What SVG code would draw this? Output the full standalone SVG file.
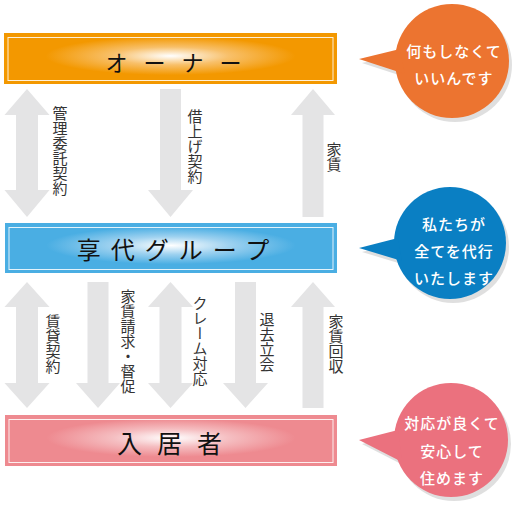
<svg xmlns="http://www.w3.org/2000/svg" width="514" height="511" viewBox="0 0 514 511">
<defs>
<radialGradient id="gO" cx="0.5" cy="0.45" r="0.5">
<stop offset="0" stop-color="#ffffff"/>
<stop offset="0.35" stop-color="#f8c06a"/>
<stop offset="0.75" stop-color="#f39800"/>
<stop offset="1" stop-color="#f39800"/>
</radialGradient>
<radialGradient id="gB" cx="0.5" cy="0.45" r="0.5">
<stop offset="0" stop-color="#ffffff"/>
<stop offset="0.35" stop-color="#9fd2f0"/>
<stop offset="0.75" stop-color="#4aaee3"/>
<stop offset="1" stop-color="#4aaee3"/>
</radialGradient>
<radialGradient id="gP" cx="0.5" cy="0.45" r="0.5">
<stop offset="0" stop-color="#ffffff"/>
<stop offset="0.35" stop-color="#f5bec1"/>
<stop offset="0.75" stop-color="#ee8a90"/>
<stop offset="1" stop-color="#ee8a90"/>
</radialGradient>
</defs>
<style>
.inner{fill:none;stroke:#ffffff;stroke-width:1;opacity:0.85}
.title{font-family:"Noto Sans CJK JP","Noto Sans CJK SC",sans-serif;fill:#111;text-anchor:middle;dominant-baseline:central}
.arrow{fill:#e4e4e5}
.lbl{font-family:"Noto Sans CJK JP","Noto Sans CJK SC",sans-serif;font-size:15px;fill:#333;writing-mode:vertical-rl;text-orientation:mixed}
.shadow{fill:#000;opacity:0.12}
.btxt{font-family:"Noto Sans CJK JP","Noto Sans CJK SC",sans-serif;font-size:15px;font-weight:500;fill:#fff;text-anchor:middle;dominant-baseline:central;letter-spacing:1px}
</style>
<rect width="514" height="511" fill="#ffffff"/>

<g id="owner">
<rect x="4" y="33" width="333" height="51" fill="url(#gO)"/>
<rect x="8" y="37.5" width="325" height="43" class="inner"/>
<text x="181.5" y="61" class="title" style="font-size:22px;letter-spacing:16px">オーナー</text>
</g>

<g id="kyodai">
<rect x="5" y="223" width="332" height="50" fill="url(#gB)"/>
<rect x="9" y="227.5" width="324" height="42" class="inner"/>
<text x="178" y="248" class="title" style="font-size:24px;letter-spacing:10px">享代グループ</text>
</g>

<g id="resident">
<rect x="5" y="415" width="332" height="51" fill="url(#gP)"/>
<rect x="9" y="419.5" width="324" height="43" class="inner"/>
<text x="177" y="442" class="title" style="font-size:25px;letter-spacing:15px">入居者</text>
</g>

<g id="connectors">
<path class="arrow" d="M27,89 L49.5,115 L38,115 L38,190 L49.5,190 L27,217 L4.5,190 L16,190 L16,115 L4.5,115 Z"/>
<path class="arrow" d="M160,89 L181,89 L181,190 L193,190 L170.5,217 L148,190 L160,190 Z"/>
<path class="arrow" d="M313,89 L335,115 L323.5,115 L323.5,217 L302.5,217 L302.5,115 L291,115 Z"/>

<path class="arrow" d="M27,282 L49.5,307 L38,307 L38,383 L49.5,383 L27,408 L4.5,383 L16,383 L16,307 L4.5,307 Z"/>
<path class="arrow" d="M87.5,282 L108.5,282 L108.5,383 L120,383 L98,408 L76,383 L87.5,383 Z"/>
<path class="arrow" d="M170.5,282 L193,307 L181.5,307 L181.5,383 L193,383 L170.5,408 L148,383 L159.5,383 L159.5,307 L148,307 Z"/>
<path class="arrow" d="M235,282 L256,282 L256,383 L268,383 L245.5,408 L223,383 L235,383 Z"/>
<path class="arrow" d="M313,282 L335,307 L323.5,307 L323.5,408 L302.5,408 L302.5,307 L291,307 Z"/>

<text x="60" y="106" class="lbl">管理委託契約</text>
<text x="195" y="109" class="lbl">借上げ契約</text>
<text x="334" y="142" class="lbl">家賃</text>
<text x="53" y="314" class="lbl">賃貸契約</text>
<text x="128" y="289" class="lbl">家賃請求・督促</text>
<text x="200" y="296" class="lbl">クレーム対応</text>
<text x="267" y="312" class="lbl">退去立会</text>
<text x="336" y="314" class="lbl">家賃回収</text>
</g>

<g id="bubble-owner">
<g class="shadow" transform="translate(3,4)">
<circle cx="452" cy="61" r="57"/>
<path d="M359,59 L400,49 L405,74 Z"/>
</g>
<circle cx="452" cy="61" r="57" fill="#ec7430"/>
<path d="M359,59 L400,49 L405,74 Z" fill="#ec7430"/>
<text x="454" y="50" class="btxt">何もしなくて</text>
<text x="454" y="77" class="btxt">いいんです</text>
</g>

<g id="bubble-kyodai">
<g class="shadow" transform="translate(3,4)">
<circle cx="450" cy="243" r="56"/>
<path d="M359,248 L398,238 L402,261 Z"/>
</g>
<circle cx="450" cy="243" r="56" fill="#0a7fc3"/>
<path d="M359,248 L398,238 L402,261 Z" fill="#0a7fc3"/>
<text x="454" y="223" class="btxt">私たちが</text>
<text x="454" y="250" class="btxt">全てを代行</text>
<text x="454" y="277" class="btxt">いたします</text>
</g>

<g id="bubble-resident">
<g class="shadow" transform="translate(3,4)">
<circle cx="451" cy="440" r="57"/>
<path d="M359,440 L398,430 L402,462 Z"/>
</g>
<circle cx="451" cy="440" r="57" fill="#eb717e"/>
<path d="M359,440 L398,430 L402,462 Z" fill="#eb717e"/>
<text x="452" y="422" class="btxt">対応が良くて</text>
<text x="452" y="450" class="btxt">安心して</text>
<text x="452" y="477" class="btxt">住めます</text>
</g>
</svg>
